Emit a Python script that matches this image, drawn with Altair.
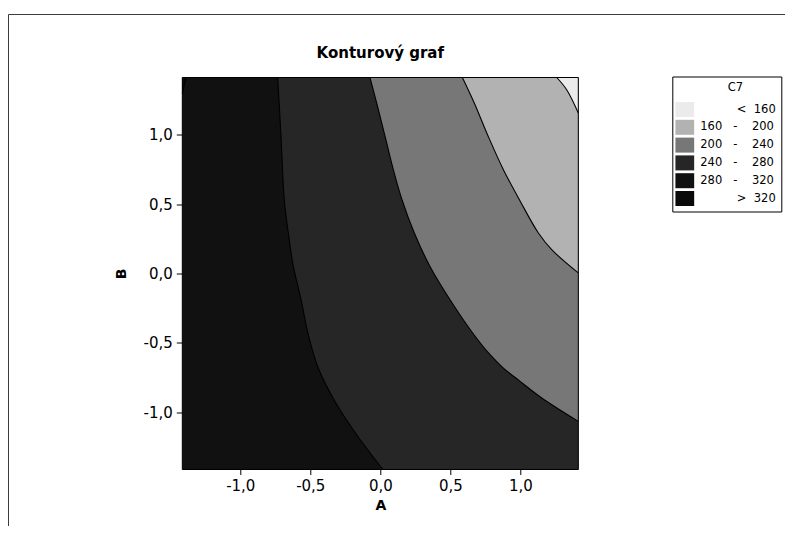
import altair as alt
import pandas as pd

# ---- axis extent (coded units of a central composite design) ----
A_MIN, A_MAX = -1.414, 1.414
B_MIN, B_MAX = -1.414, 1.414
tick_values = [-1.0, -0.5, 0.0, 0.5, 1.0]

# ---- contour levels and fills (legend "C7") ----
levels = ["< 160", "160 - 200", "200 - 240", "240 - 280", "280 - 320", "> 320"]
fills = ["#ebebeb", "#b2b2b2", "#777777", "#262626", "#111111", "#0a0a0a"]

# ---- contour boundaries: A value where the contour crosses each B ----
c320_B = [1.297, 1.414]
c320_A = [-1.414, -1.386]

c280_B = [1.414, 0.989, 0.532, 0.292, 0.051, -0.189, -0.442, -0.682, -0.923, -1.163, -1.414]
c280_A = [-0.733, -0.709, -0.686, -0.657, -0.621, -0.566, -0.514, -0.443, -0.324, -0.169, 0.019]

c240_B = [1.414, 1.230, 0.989, 0.749, 0.532, 0.292, 0.051, -0.189, -0.442, -0.586, -0.682, -0.778, -0.898, -1.067]
c240_A = [-0.074, -0.026, 0.034, 0.093, 0.155, 0.243, 0.355, 0.498, 0.669, 0.784, 0.879, 0.998, 1.153, 1.414]

c200_B = [1.414, 1.230, 0.989, 0.749, 0.520, 0.292, 0.172, 0.004]
c200_A = [0.586, 0.671, 0.771, 0.879, 1.000, 1.129, 1.224, 1.414]

c160_B = [1.414, 1.326, 1.158]
c160_A = [1.260, 1.331, 1.414]

FONT = "DejaVu Sans"
CURVE = "catmull-rom"


def band(B, lo, hi, level):
    return pd.DataFrame({"B": B, "lo": lo, "hi": hi, "level": level})


regions = [
    band([B_MIN, B_MAX], [A_MIN, A_MIN], [A_MAX, A_MAX], "280 - 320"),
    band(c320_B, [A_MIN] * len(c320_B), c320_A, "> 320"),
    band(c280_B, c280_A, [A_MAX] * len(c280_B), "240 - 280"),
    band(c240_B, c240_A, [A_MAX] * len(c240_B), "200 - 240"),
    band(c200_B, c200_A, [A_MAX] * len(c200_B), "160 - 200"),
    band(c160_B, c160_A, [A_MAX] * len(c160_B), "< 160"),
]

lines = []
for name, bs, as_ in [("320", c320_B, c320_A), ("280", c280_B, c280_A), ("240", c240_B, c240_A),
                      ("200", c200_B, c200_A), ("160", c160_B, c160_A)]:
    lines.append(pd.DataFrame({"B": bs, "A": as_, "i": list(range(len(bs))), "curve": name}))
lines_df = pd.concat(lines, ignore_index=True)

xscale = alt.Scale(domain=[A_MIN, A_MAX], nice=False, zero=False)
yscale = alt.Scale(domain=[B_MIN, B_MAX], nice=False, zero=False)

num_expr = "replace(replace(format(datum.value, '.1f'), '.', ','), '\u2212', '-')"

x_axis = alt.Axis(values=tick_values, title="A", labelExpr=num_expr, titleX=198, titleY=40,
                  titleBaseline="alphabetic")
y_axis = alt.Axis(values=tick_values, title="B", labelExpr=num_expr, titleX=-57, titleY=196,
                  titleBaseline="alphabetic")

NB = "\u00a0"
ZW = "\u200b"  # keeps the leading spaces from being trimmed
legend_expr = (
    "indexof(datum.label, ' - ') >= 0 ? replace(datum.label, ' - ', '" + NB * 3 + "-" + NB * 4 + "') : '"
    + ZW + NB * 10 + "' + replace(datum.label, ' ', '" + NB * 2 + "')"
)

color = alt.Color(
    "level:N",
    scale=alt.Scale(domain=levels, range=fills),
    legend=alt.Legend(
        orient="none", legendX=490, legendY=-1,
        title=ZW + NB * 5 + "C7", titleAnchor="middle", titleFont=FONT, titleFontSize=11.5,
        titleFontWeight="normal", titleColor="black", titlePadding=9,
        labelFont=FONT, labelFontSize=11.5, labelColor="black", labelExpr=legend_expr,
        labelOffset=8, labelLimit=200,
        symbolType="M-1.25,-1H1.25V1H-1.25Z", symbolSize=225, symbolStrokeWidth=0,
        symbolOpacity=1, rowPadding=2.8,
        strokeColor="black", padding=5,
    ),
)

layers = []
for df in regions:
    layers.append(
        alt.Chart(df).mark_area(orient="horizontal", interpolate=CURVE, opacity=1)
        .encode(
            x=alt.X("lo:Q", scale=xscale, axis=x_axis, stack=None),
            x2="hi:Q",
            y=alt.Y("B:Q", scale=yscale, axis=y_axis),
            color=color,
        )
    )

contours = alt.Chart(lines_df).mark_line(color="black", strokeWidth=1.1, interpolate=CURVE).encode(
    x=alt.X("A:Q", scale=xscale, axis=x_axis),
    y=alt.Y("B:Q", scale=yscale, axis=y_axis),
    detail="curve:N",
    order="i:Q",
)

plot_frame = alt.Chart(pd.DataFrame({"k": [0]})).mark_rect(
    fillOpacity=0, stroke="black", strokeWidth=1
).encode(x=alt.value(0), x2=alt.value(396), y=alt.value(0), y2=alt.value(392))

page_frame = alt.Chart(pd.DataFrame({"k": [0]})).mark_rect(
    fillOpacity=0, stroke="#3c3c3c", strokeWidth=1
).encode(x=alt.value(-173.8), x2=alt.value(800), y=alt.value(-63), y2=alt.value(700))

chart = alt.layer(*layers, contours, plot_frame, page_frame).properties(
    width=396,
    height=392,
    title=alt.TitleParams("Konturový graf", font=FONT, fontSize=15, fontWeight="bold", color="black",
                          anchor="middle", baseline="alphabetic", offset=-59),
    padding={"left": 174.3, "top": 69.5, "right": 206.7, "bottom": 56.5},
    autosize=alt.AutoSizeParams(type="none"),
    background="white",
).configure_view(strokeWidth=0).configure_axis(
    domain=False, grid=False, tickColor="black", tickWidth=1, labelColor="black", titleColor="black",
    labelFont=FONT, labelFontSize=15, titleFont=FONT, titleFontSize=14, titleFontWeight="bold",
).configure_axisX(tickSize=5, labelPadding=4).configure_axisY(tickSize=6, labelPadding=4)

chart.save("out.html", embed_options={"renderer": "svg", "actions": False})
